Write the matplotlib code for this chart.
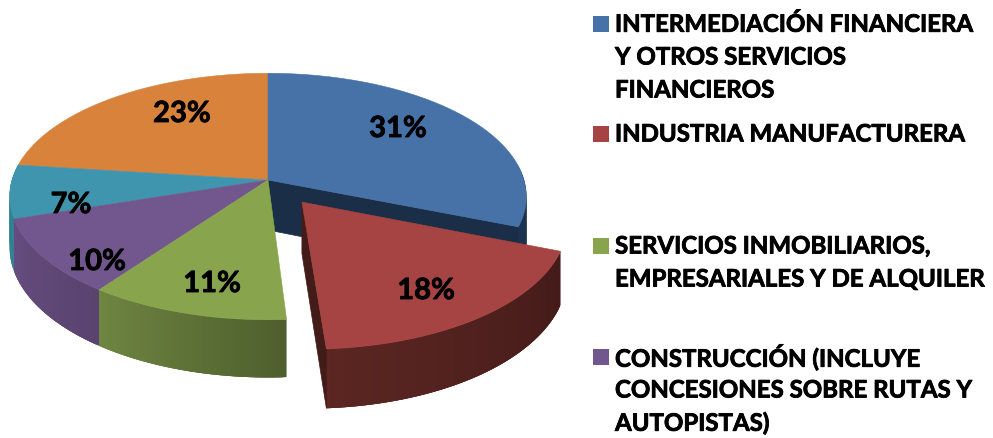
import numpy as np
import matplotlib
matplotlib.use('Agg')
import matplotlib.pyplot as plt
import matplotlib.patheffects as pe
from matplotlib.patches import Polygon, Rectangle
from matplotlib.colors import to_rgb

# shares clockwise from 12 o'clock
shares = [31, 18, 11, 10, 7, 23]
share_labels = ['31%', '18%', '11%', '10%', '7%', '23%']
legend_labels = ['INTERMEDIACIÓN FINANCIERA\nY OTROS SERVICIOS\nFINANCIEROS',
                 'INDUSTRIA MANUFACTURERA',
                 'SERVICIOS INMOBILIARIOS,\nEMPRESARIALES Y DE ALQUILER',
                 'CONSTRUCCIÓN (INCLUYE\nCONCESIONES SOBRE RUTAS Y\nAUTOPISTAS)']

top_colors = ['#4672A8', '#A54442', '#88A44D', '#72578E', '#4095AE', '#D8823C']
# wall shades, from the clockwise end of the slice to its start
side_from = ['#1C3350', '#5C2622', '#6F8642', '#664C80', '#2F8093', '#9A5A28']
side_to = ['#1A2E47', '#431B19', '#4E5F2D', '#5A436F', '#2F8093', '#9A5A28']

label_pos = [(398, 129), (426, 291), (212, 284), (97, 262), (71, 205), (182, 114)]
legend_y = [24, 134, 246, 357]
explode = [0, 0.22, 0, 0, 0, 0]

CX, CY, R, Q, K, H = 268, 180, 256, 121, 0.134, 50


def project(u, v, lift=0):
    s = 1 / (1 + K * v)
    return CX + R * u * s, CY - Q * v * s + lift * s


fig = plt.figure(figsize=(9.93, 4.38), dpi=100)
ax = fig.add_axes([0, 0, 1, 1])
ax.set_xlim(0, 993)
ax.set_ylim(438, 0)
ax.axis('off')

edges = np.cumsum([0] + shares) / sum(shares) * 2 * np.pi


def draw_slice(i):
    mid = (edges[i] + edges[i + 1]) / 2
    du, dv = explode[i] * np.sin(mid), explode[i] * np.cos(mid)
    t = np.linspace(edges[i], edges[i + 1], 90)
    u, v = np.sin(t) + du, np.cos(t) + dv
    c0, c1 = np.array(to_rgb(side_from[i])), np.array(to_rgb(side_to[i]))

    # rim wall, only the part facing the viewer
    n = len(t) - 1
    for j in range(n):
        if np.cos(t[j]) > 0.12 and np.cos(t[j + 1]) > 0.12:
            continue
        e = min(j + 3, n)  # overlap the next quads so no seams show
        x0, y0 = project(u[j], v[j])
        x1, y1 = project(u[e], v[e])
        x2, y2 = project(u[e], v[e], H)
        x3, y3 = project(u[j], v[j], H)
        col = c1 + (c0 - c1) * j / n
        ax.add_patch(Polygon([(x0, y0), (x1, y1), (x2, y2), (x3, y3)],
                             fc=col, ec='none'))

    # cut faces of the blue and red slices
    if i in (0, 1):
        ap = project(du, dv)
        ap2 = project(du, dv, H)
        rim = project(u[-1], v[-1])
        rim2 = project(u[-1], v[-1], H)
        col = side_to[i]
        ax.add_patch(Polygon([ap, rim, rim2, ap2], fc=col, ec=col, lw=0.5))


def draw_top(i):
    mid = (edges[i] + edges[i + 1]) / 2
    du, dv = explode[i] * np.sin(mid), explode[i] * np.cos(mid)
    t = np.linspace(edges[i], edges[i + 1], 90)
    xs, ys = project(np.sin(t) + du, np.cos(t) + dv)
    pts = [project(du, dv)] + list(zip(xs, ys))
    ax.add_patch(Polygon(pts, fc=top_colors[i], ec=top_colors[i], lw=0.4))


# back to front so the exploded slice stays on top
for i in [0, 4, 3, 2]:
    draw_slice(i)
for i in [5, 0, 4, 3, 2]:
    draw_top(i)
draw_slice(1)
draw_top(1)

font = ['Lato', 'DejaVu Sans']
heavy = [pe.withStroke(linewidth=0.6, foreground='black')]
for lab, (x, y) in zip(share_labels, label_pos):
    ax.text(x, y, lab, ha='center', va='center', fontsize=21, fontweight='bold',
            family=font, color='black', path_effects=heavy)

for lab, y, col in zip(legend_labels, legend_y, top_colors):
    ax.add_patch(Rectangle((593, y - 8), 16, 16, fc=col, ec='none'))
    for n, line in enumerate(lab.split('\n')):
        ax.text(615, y + n * 33, line, ha='left', va='center', fontsize=17.3,
                fontweight='bold', family=font, color='black', path_effects=heavy)

fig.savefig('out.png', dpi=100)
